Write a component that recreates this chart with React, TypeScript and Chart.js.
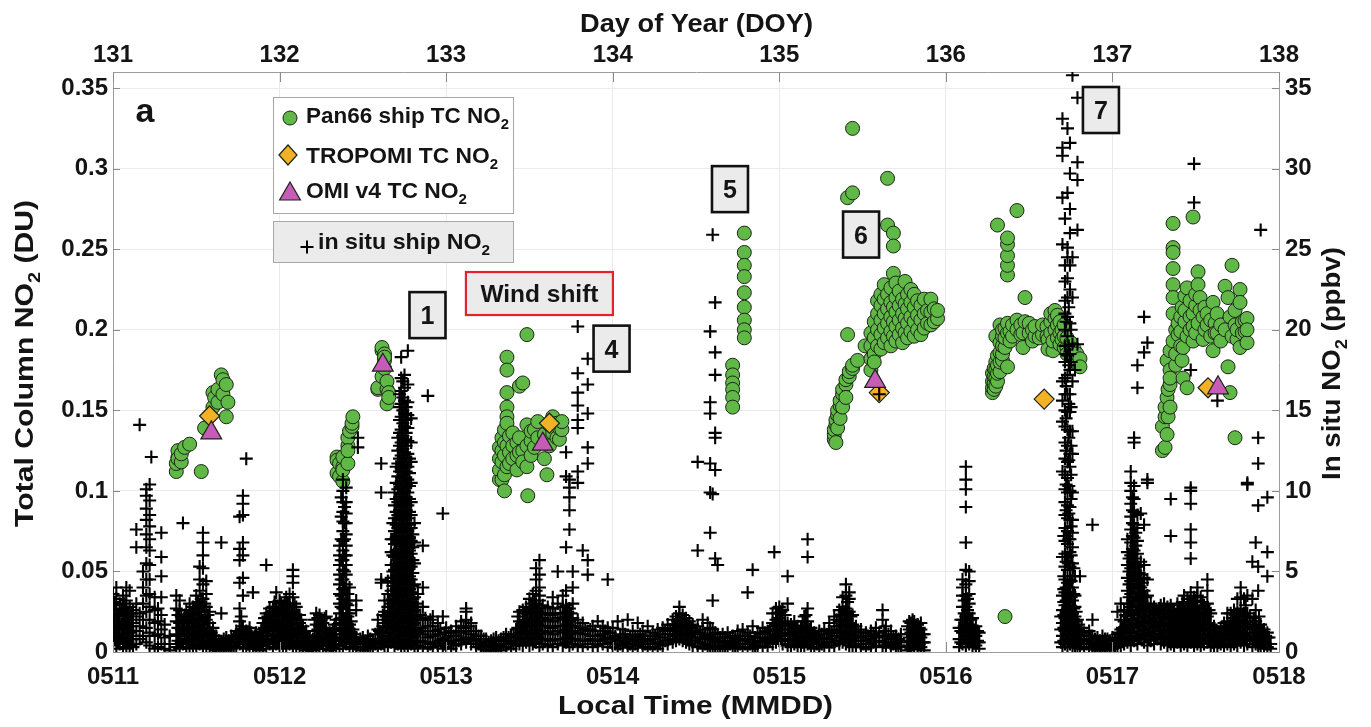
import React, { useEffect, useRef } from 'react';
import { Chart, registerables } from 'chart.js';

Chart.register(...registerables);

type Column = [number, number[]];
type Pair = [number, number];

// Axis ticks
const doyTicks = [131, 132, 133, 134, 135, 136, 137, 138];
const dateLabels = ['0511', '0512', '0513', '0514', '0515', '0516', '0517', '0518'];
const duTicks = [0, 0.05, 0.1, 0.15, 0.2, 0.25, 0.3, 0.35];
const duLabels = ['0', '0.05', '0.1', '0.15', '0.2', '0.25', '0.3', '0.35'];
const ppbvTicks = [0, 5, 10, 15, 20, 25, 30, 35];
const ppbvLabels = ['0', '5', '10', '15', '20', '25', '30', '35'];

// Satellite total columns (DOY, DU)
const tropomiTC: Pair[] = [
  [131.58, 0.1465], [133.62, 0.142], [135.6, 0.161], [136.59, 0.157], [137.574, 0.164],
];
const omiTC: Pair[] = [
  [131.59, 0.136], [132.62, 0.178], [133.58, 0.129], [135.575, 0.168], [137.634, 0.164],
];

// Pan66 ship total column NO2, grouped by time: [DOY, DU values]
const pan66Day131: Column[] = [
  [131.38, [0.112, 0.117]], [131.39, [0.121, 0.125, 0.12]], [131.41, [0.118, 0.123]],
  [131.43, [0.127]], [131.46, [0.129]], [131.53, [0.112]], [131.55, [0.139]],
  [131.6, [0.161, 0.152]], [131.61, [0.158]], [131.63, [0.155, 0.163]], [131.65, [0.172]],
  [131.66, [0.169, 0.16]], [131.68, [0.166, 0.146]], [131.69, [0.155]],
];
const pan66Day132: Column[] = [
  [132.345, [0.121, 0.119, 0.111]], [132.36, [0.117, 0.109]], [132.38, [0.115, 0.106, 0.113, 0.121]],
  [132.41, [0.128, 0.133, 0.117, 0.125]], [132.42, [0.137]], [132.435, [0.14, 0.142]], [132.44, [0.146]],
  [132.59, [0.163, 0.164]], [132.615, [0.187, 0.189, 0.171]], [132.63, [0.185, 0.181, 0.183, 0.176]],
  [132.645, [0.163, 0.154, 0.168]], [132.655, [0.161, 0.158]],
];
const pan66Day133: Column[] = [
  [133.32, [0.107, 0.113, 0.12, 0.127]], [133.335, [0.107, 0.118, 0.125, 0.133]],
  [133.35, [0.1, 0.11, 0.122, 0.13, 0.138]], [133.365, [0.183, 0.175, 0.161, 0.152, 0.146, 0.142, 0.115, 0.128]],
  [133.38, [0.117, 0.124, 0.134]], [133.4, [0.12, 0.128, 0.136]], [133.425, [0.13, 0.122, 0.113]],
  [133.44, [0.124, 0.133, 0.165]], [133.46, [0.167, 0.125, 0.118]], [133.485, [0.197, 0.141, 0.115, 0.128]],
  [133.49, [0.097]], [133.51, [0.122, 0.131, 0.137]], [133.53, [0.138, 0.127]], [133.55, [0.133, 0.143]],
  [133.59, [0.12, 0.135]], [133.605, [0.11]], [133.62, [0.128, 0.141]], [133.64, [0.146, 0.136]],
  [133.665, [0.142, 0.133]], [133.68, [0.132, 0.139]], [133.695, [0.138, 0.143]],
];
const pan66Day134: Column[] = [
  [134.72, [0.178, 0.172, 0.167, 0.163, 0.158, 0.152]],
  [134.79, [0.26, 0.248, 0.24, 0.233, 0.223, 0.214, 0.206, 0.2, 0.195]],
];
const pan66Day135: Column[] = [
  [135.33, [0.132, 0.135, 0.138]], [135.34, [0.141, 0.144, 0.13]], [135.35, [0.147, 0.15, 0.139]],
  [135.365, [0.153, 0.156, 0.145]], [135.38, [0.16, 0.163, 0.152]], [135.4, [0.166, 0.169, 0.158]],
  [135.41, [0.282, 0.197]], [135.42, [0.171, 0.174]], [135.44, [0.176, 0.178, 0.325, 0.285]],
  [135.47, [0.181]], [135.515, [0.19]],
  [135.55, [0.175, 0.182, 0.19, 0.198]], [135.57, [0.185, 0.195, 0.205, 0.18]],
  [135.59, [0.19, 0.2, 0.21, 0.218]], [135.61, [0.188, 0.197, 0.206, 0.215, 0.222]],
  [135.63, [0.192, 0.201, 0.21, 0.219, 0.228]], [135.65, [0.294, 0.265, 0.195, 0.204, 0.213, 0.222]],
  [135.67, [0.19, 0.199, 0.208, 0.217, 0.226]], [135.685, [0.26, 0.252, 0.235, 0.196, 0.205, 0.214]],
  [135.7, [0.193, 0.202, 0.211, 0.22, 0.229]], [135.72, [0.197, 0.206, 0.215, 0.224]],
  [135.74, [0.192, 0.201, 0.21, 0.219]], [135.755, [0.23, 0.198, 0.207, 0.216]],
  [135.77, [0.195, 0.204, 0.213, 0.222]], [135.79, [0.199, 0.208, 0.217, 0.225]],
  [135.81, [0.196, 0.205, 0.214, 0.222]], [135.83, [0.2, 0.209, 0.218]], [135.85, [0.197, 0.206, 0.215]],
  [135.87, [0.201, 0.21, 0.219]], [135.89, [0.204, 0.212]], [135.91, [0.203, 0.211, 0.219]],
  [135.93, [0.205, 0.213]], [135.95, [0.207, 0.212]],
];
const pan66Day136: Column[] = [
  [136.28, [0.161, 0.164, 0.168, 0.173]], [136.29, [0.163, 0.167, 0.171, 0.176]],
  [136.3, [0.165, 0.17, 0.175, 0.18, 0.196]], [136.31, [0.168, 0.173, 0.178, 0.184, 0.265]],
  [136.325, [0.174, 0.18, 0.186, 0.192, 0.203]], [136.34, [0.181, 0.185, 0.19, 0.196, 0.2]],
  [136.355, [0.189, 0.195, 0.201, 0.022]], [136.37, [0.177, 0.198, 0.204, 0.234, 0.24, 0.246, 0.253, 0.257]],
  [136.385, [0.199, 0.193]], [136.4, [0.196, 0.203]], [136.427, [0.274, 0.206, 0.2]], [136.45, [0.197, 0.203]],
  [136.463, [0.189, 0.198]], [136.475, [0.22, 0.205]], [136.5, [0.198, 0.204]], [136.52, [0.193, 0.2]],
  [136.535, [0.196, 0.202]], [136.56, [0.195]], [136.58, [0.197, 0.203]], [136.607, [0.202, 0.196]],
  [136.613, [0.194, 0.188]], [136.63, [0.198, 0.205, 0.21]], [136.643, [0.187, 0.193]],
  [136.655, [0.207, 0.212, 0.2]], [136.67, [0.195, 0.203, 0.209]], [136.685, [0.191, 0.198, 0.205]],
  [136.697, [0.2, 0.194]], [136.71, [0.189, 0.196, 0.203]], [136.727, [0.189, 0.185, 0.195]],
  [136.75, [0.186, 0.192]], [136.77, [0.183, 0.188]], [136.787, [0.179, 0.185]], [136.805, [0.182, 0.177]],
];
const pan66Day137: Column[] = [
  [137.3, [0.14, 0.125]], [137.316, [0.127, 0.146, 0.152]], [137.328, [0.158, 0.181, 0.135]],
  [137.334, [0.146, 0.163]], [137.346, [0.152, 0.166, 0.175, 0.187, 0.17]],
  [137.364, [0.266, 0.251, 0.248, 0.238, 0.228, 0.22, 0.21, 0.193]], [137.38, [0.178, 0.185, 0.2]],
  [137.394, [0.197, 0.204]], [137.41, [0.19, 0.199, 0.208]], [137.418, [0.181, 0.214]],
  [137.424, [0.189, 0.17]], [137.435, [0.205, 0.212, 0.221]], [137.448, [0.226, 0.164, 0.196]],
  [137.466, [0.218, 0.2, 0.208]], [137.484, [0.27, 0.21, 0.202, 0.193]], [137.5, [0.215, 0.222, 0.198]],
  [137.514, [0.236, 0.228, 0.204]], [137.526, [0.22, 0.212]], [137.544, [0.194, 0.208]],
  [137.555, [0.214, 0.2]], [137.568, [0.21, 0.203]], [137.59, [0.196, 0.206]], [137.604, [0.217, 0.187]],
  [137.616, [0.204, 0.198]], [137.628, [0.198, 0.21]], [137.65, [0.203, 0.193]], [137.676, [0.227, 0.2]],
  [137.694, [0.22, 0.177]], [137.706, [0.208, 0.161]], [137.718, [0.24, 0.196]],
  [137.736, [0.133, 0.203, 0.212]], [137.748, [0.194, 0.2]], [137.766, [0.225, 0.217, 0.189]],
  [137.78, [0.198, 0.205]], [137.796, [0.206, 0.199]], [137.808, [0.207, 0.192, 0.2]],
];

// In situ ship NO2, grouped by time: [DOY, ppbv values]
const inSitu131: Column[] = [
  [131.0, [0.4, 1.2, 2.0, 2.9, 3.6]], [131.01, [0.8, 1.6, 2.4, 3.1]], [131.02, [0.2, 1.0, 1.8, 2.6, 3.3, 4.0]],
  [131.03, [0.6, 1.5, 2.3]], [131.04, [0.5, 1.4, 2.2, 3.0]], [131.05, [0.9, 1.7, 2.6]],
  [131.06, [0.3, 1.1, 1.9, 2.7, 3.5]], [131.07, [0.7, 1.5, 2.2, 3.0]], [131.08, [0.2, 0.9, 1.7, 2.5, 3.2, 4.0]],
  [131.09, [0.6, 1.4, 2.3]], [131.1, [0.4, 1.2, 2.0, 2.8, 3.8]], [131.11, [0.8, 1.6, 2.4]],
  [131.12, [0.3, 1.0, 1.8, 2.6]], [131.14, [0.5, 1.3, 2.2, 3.0, 6.5, 7.6]], [131.16, [0.8, 1.6, 2.4, 14.1]],
  [131.18, [1.0, 2.0, 3.0, 4.0, 5.0]], [131.2, [0.6, 1.5, 2.5, 3.5, 4.5, 5.5, 6.5, 7.3, 8.2, 8.9, 9.7, 10.1]],
  [131.22, [0.4, 1.2, 2.0, 2.8, 3.6, 4.5, 5.4, 6.3, 7.0, 7.8, 8.5, 9.4, 10.4]], [131.23, [12.1]],
  [131.25, [0.2, 1.0, 1.8, 2.6, 3.4]], [131.27, [0.3, 1.1, 1.9, 2.7]], [131.29, [0.5, 1.4, 2.3, 3.4, 4.7, 5.9, 7.4]],
  [131.31, [0.2, 0.9, 1.7]], [131.34, [0.1, 0.5, 1.0]], [131.38, [0.3, 1.1, 1.9, 2.7, 3.5]],
  [131.39, [0.7, 1.5, 2.3]], [131.4, [0.2, 1.0, 1.8, 2.6, 3.2]], [131.41, [0.6, 1.4, 2.2]],
  [131.42, [0.5, 1.3, 2.0, 8.0]], [131.43, [0.8, 1.5, 2.3]], [131.44, [0.3, 1.1, 1.9, 2.6]],
  [131.45, [0.6, 1.4, 2.2]], [131.46, [0.2, 1.0, 1.8, 2.4, 3.0]], [131.47, [0.7, 1.5, 2.3]],
  [131.48, [0.4, 1.2, 2.0, 2.8]], [131.49, [0.8, 1.6, 2.4]], [131.5, [0.3, 1.1, 1.9, 2.7, 3.5]],
  [131.51, [0.7, 1.5, 2.3, 3.1]], [131.52, [0.5, 1.3, 2.1, 2.9, 3.8, 4.5, 5.3]],
  [131.53, [0.9, 1.7, 2.5, 3.3]], [131.54, [0.2, 1.0, 1.9, 2.8, 3.3, 4.2, 5.2, 6.0, 6.8, 7.4]],
  [131.55, [0.6, 1.4, 2.2, 3.0]], [131.56, [0.4, 1.2, 2.0, 2.8, 3.6, 4.4]], [131.57, [0.7, 1.5, 2.3]],
  [131.58, [0.3, 1.1, 1.8, 2.5]], [131.59, [0.6, 1.2]], [131.6, [0.2, 0.8, 1.5]], [131.61, [0.4, 1.0]],
  [131.62, [0.1, 0.5, 1.0]], [131.635, [0.3, 0.7]], [131.65, [0.2, 0.6, 2.4, 6.8]], [131.665, [0.4, 0.8]],
  [131.68, [0.1, 0.5, 0.9]], [131.695, [0.3, 0.7]], [131.71, [0.2, 0.6, 1.0]], [131.725, [0.4, 0.9]],
  [131.74, [0.3, 0.8, 1.3]], [131.75, [0.6, 1.1]], [131.76, [0.5, 1.2, 1.9, 2.7, 4.3, 5.7, 6.4, 8.4]],
  [131.77, [0.8, 1.4, 2.2]], [131.78, [0.3, 1.0, 1.6, 3.5, 4.6, 6.0, 6.8, 8.5, 9.2, 9.7]],
  [131.79, [0.6, 1.2]], [131.8, [0.2, 0.8, 1.3, 12.0]], [131.81, [0.5, 1.1]], [131.82, [0.4, 1.0, 1.5]],
  [131.83, [0.7, 1.2]], [131.84, [0.2, 0.7, 3.7]], [131.85, [0.5, 1.0]], [131.86, [0.3, 0.8, 1.2]],
  [131.87, [0.5, 0.9]], [131.88, [0.1, 0.6, 1.0]], [131.89, [0.7, 1.4]], [131.9, [0.4, 1.2, 1.8]],
  [131.91, [0.7, 1.5, 2.1]], [131.92, [0.2, 1.0, 1.8, 2.4, 5.4]], [131.93, [0.6, 1.4, 2.2]],
  [131.94, [0.5, 1.3, 2.0, 2.7]], [131.95, [0.8, 1.6, 2.4]], [131.96, [0.3, 1.1, 1.9, 2.8]],
  [131.97, [0.7, 1.5, 2.3, 3.1]], [131.98, [0.5, 1.3, 2.2, 2.8, 3.7]], [131.99, [0.9, 1.7, 2.5]],
];
const inSitu132: Column[] = [
  [132.0, [0.2, 1.0, 1.8, 2.6, 3.2]], [132.01, [0.6, 1.4, 2.2, 3.0]], [132.02, [0.4, 1.2, 2.0, 2.7]],
  [132.03, [0.8, 1.6, 2.4, 3.1]], [132.04, [0.3, 1.1, 1.9, 2.6, 3.4]], [132.05, [0.7, 1.5, 2.3, 3.0]],
  [132.06, [0.5, 1.3, 2.1, 2.9, 3.6]], [132.07, [0.9, 1.7, 2.5]], [132.08, [0.2, 1.0, 1.8, 2.4, 3.4, 4.3, 4.7, 5.1]],
  [132.09, [0.6, 1.4, 2.2, 3.0]], [132.1, [0.4, 1.2, 2.0, 2.8]], [132.11, [0.7, 1.5, 2.3]],
  [132.12, [0.3, 1.1, 1.8, 2.3]], [132.13, [0.6, 1.3, 2.0]], [132.14, [0.2, 0.9, 1.6]], [132.15, [0.5, 1.2]],
  [132.16, [0.1, 0.7, 1.3]], [132.17, [0.4, 0.9]], [132.18, [0.2, 0.5, 0.9]], [132.19, [0.3, 0.7]],
  [132.2, [0.1, 0.4, 0.8]], [132.21, [0.6, 1.3, 2.0]], [132.22, [0.3, 1.0, 1.7, 2.4]], [132.23, [0.7, 1.4, 2.1]],
  [132.24, [0.2, 0.9, 1.6, 2.3]], [132.25, [0.6, 1.3, 2.0]], [132.26, [0.4, 1.1, 1.8]], [132.27, [0.7, 1.4, 2.1]],
  [132.28, [0.2, 0.8, 1.5, 2.2]], [132.29, [0.5, 1.1]], [132.3, [0.1, 0.6, 1.2]], [132.31, [0.4, 1.0]],
  [132.32, [0.3, 0.8, 1.4]], [132.33, [0.5, 1.1, 1.7]], [132.34, [0.2, 0.7, 1.3, 2.0]],
  [132.36, [0.4, 1.1, 1.8, 2.4, 3.0, 3.6, 4.2, 4.8, 5.4, 6.0, 6.6]],
  [132.37, [0.7, 1.4, 2.1, 2.8, 3.5, 4.5, 5.7, 7.0, 8.4, 9.6]],
  [132.38, [0.2, 0.9, 1.5, 2.1, 2.7, 3.3, 3.9, 4.5, 5.1, 5.7, 6.3, 6.9, 7.5, 8.1, 8.7, 9.3, 10.0, 10.7]],
  [132.39, [0.6, 1.3, 2.0, 3.0, 4.0, 5.0, 6.0, 7.0, 8.0, 9.0]],
  [132.4, [0.5, 1.2, 1.8, 2.4, 3.0, 3.6, 4.2, 4.8, 5.4, 6.0, 6.6, 7.3, 8.0, 8.6, 9.3, 10.2]],
  [132.41, [0.8, 1.5, 2.2, 2.9, 3.6]], [132.42, [0.3, 1.0, 1.7, 2.4, 3.2, 4.0]], [132.43, [0.6, 1.2, 1.9]],
  [132.44, [0.2, 0.8, 1.4]], [132.45, [0.5, 1.1]], [132.46, [0.3, 0.9, 2.6, 3.2]], [132.47, [12.7, 13.3, 0.6]],
  [132.485, [0.3, 0.8]], [132.5, [0.1, 0.5, 0.9]], [132.515, [0.3, 0.7]], [132.53, [0.2, 0.6, 1.0]],
  [132.545, [0.4, 0.8]], [132.56, [0.3, 0.7]], [132.575, [0.5, 1.1]], [132.59, [0.2, 0.8, 1.4, 2.0]],
  [132.6, [0.6, 1.3]], [132.61, [0.5, 1.2, 4.3, 4.5, 9.9, 11.7]], [132.62, [0.8, 1.6, 2.3]],
  [132.63, [0.3, 1.0, 1.8, 2.5, 3.2]], [132.64, [0.7, 1.5, 2.2]],
  [132.65, [0.4, 1.2, 2.0, 2.8, 3.6, 4.4]], [132.66, [0.8, 1.6, 2.4, 3.2]],
  [132.67, [0.6, 1.4, 2.2, 3.0, 3.8, 4.6, 5.4, 6.2, 7.0]],
  [132.68, [0.9, 1.7, 2.5, 3.3, 4.1, 5.0, 6.0, 7.0, 8.0]],
  [132.69, [0.3, 1.1, 1.9, 2.7, 3.5, 4.3, 5.1, 5.9, 6.7, 7.5, 8.3, 9.1, 9.9]],
  [132.7, [0.7, 1.5, 2.3, 3.1, 3.9, 4.7, 5.5, 6.3, 7.1, 7.9, 8.7, 9.5, 10.5, 11.5]],
  [132.71, [0.5, 1.3, 2.1, 2.9, 3.7, 4.5, 5.3, 6.1, 6.9, 7.7, 8.5, 9.3, 10.1, 10.9, 11.7, 12.5, 13.3]],
  [132.72, [0.8, 1.6, 2.4, 3.2, 4.0, 4.8, 5.6, 6.4, 7.2, 8.0, 8.8, 9.6, 10.4, 11.2, 12.0, 12.8, 13.6, 14.4, 15.2, 16.0]],
  [132.73, [0.2, 1.0, 1.8, 2.6, 3.4, 4.2, 5.0, 5.8, 6.6, 7.4, 8.2, 9.0, 9.8, 10.6, 11.4, 12.2, 13.0, 13.8, 14.6, 15.4, 16.2, 17.0, 18.3]],
  [132.74, [0.6, 1.4, 2.2, 3.0, 3.8, 4.6, 5.4, 6.2, 7.0, 7.8, 8.6, 9.4, 10.2, 11.0, 11.8, 12.6, 13.4, 14.2, 15.0, 15.8, 16.8]],
  [132.75, [0.4, 1.2, 2.0, 2.8, 3.6, 4.4, 5.2, 6.0, 6.8, 7.6, 8.4, 9.2, 10.0, 10.8, 11.6, 12.4, 13.2, 14.0, 14.8, 15.6, 16.4, 17.2]],
  [132.76, [0.8, 1.6, 2.4, 3.2, 4.0, 4.8, 5.6, 6.4, 7.2, 8.0, 8.8, 9.6, 10.4, 11.2, 12.0, 12.8, 13.6, 14.4, 15.2]],
  [132.77, [0.3, 1.1, 1.9, 2.7, 3.5, 4.3, 5.1, 5.9, 6.7, 7.5, 8.3, 9.1, 9.9, 10.7, 11.5, 12.3, 13.1, 13.9, 14.7, 15.5, 16.6, 18.7]],
  [132.78, [0.7, 1.5, 2.3, 3.1, 3.9, 4.7, 5.5, 6.3, 7.1, 7.9, 8.7, 9.5, 10.3, 11.1, 12.0]],
  [132.79, [0.5, 1.3, 2.1, 2.9, 3.7, 4.5, 5.3, 6.1, 6.9, 7.7, 8.5, 9.3, 10.5, 11.8, 13.0, 14.5]],
  [132.8, [0.9, 1.7, 2.5, 3.3, 4.1, 4.9, 5.7, 6.5, 7.3]],
  [132.81, [0.2, 1.0, 1.8, 2.6, 3.4, 4.2, 5.5, 6.8, 8.0]], [132.82, [0.6, 1.4, 2.2, 3.0]],
  [132.83, [0.4, 1.2, 2.0, 2.8, 3.6]], [132.845, [0.7, 1.5, 2.3]], [132.86, [0.3, 1.1, 2.0, 2.8, 4.0, 6.6]],
  [132.875, [0.6, 1.3, 2.1]], [132.89, [0.2, 0.9, 1.6, 15.9]], [132.905, [0.5, 1.3, 2.0]],
  [132.92, [0.3, 1.0, 1.6, 2.2]], [132.935, [0.6, 1.3]], [132.95, [0.4, 1.1, 1.8]], [132.965, [0.7, 1.4]],
  [132.98, [0.2, 0.8, 2.2, 8.6]], [132.99, [0.5, 1.2]],
];
const inSitu133: Column[] = [
  [133.0, [0.3, 0.9, 1.5]], [133.015, [0.6, 1.2]], [133.03, [0.2, 0.7, 1.3]], [133.045, [0.5, 1.0]],
  [133.06, [0.4, 1.0, 1.6]], [133.075, [0.7, 1.3]], [133.09, [0.5, 1.2, 1.9]], [133.105, [0.8, 1.5]],
  [133.12, [0.6, 1.3, 2.0, 2.5, 2.7]], [133.135, [0.9, 1.6]], [133.15, [0.5, 1.1, 1.8]], [133.165, [0.7, 1.3]],
  [133.18, [0.3, 0.8, 1.3]], [133.195, [0.5, 1.0]], [133.21, [0.2, 0.6, 1.0]], [133.225, [0.4, 0.8]],
  [133.24, [0.1, 0.4, 0.8]], [133.255, [0.3, 0.6]], [133.27, [0.1, 0.3, 0.7]], [133.285, [0.4, 0.8]],
  [133.3, [0.2, 0.5, 0.9]], [133.315, [0.3, 0.7]], [133.33, [0.1, 0.4, 0.8]], [133.345, [0.5, 0.9]],
  [133.36, [0.3, 0.7, 1.1]], [133.375, [0.5, 0.9]], [133.39, [0.2, 0.6, 1.0]], [133.405, [0.5, 1.1]],
  [133.42, [0.4, 0.9, 1.4]], [133.43, [0.7, 1.5, 2.2]], [133.44, [0.5, 1.2, 1.9, 2.5]], [133.45, [0.8, 1.5]],
  [133.46, [0.4, 1.1, 1.8, 2.6]], [133.47, [0.8, 1.6, 2.4]], [133.48, [0.6, 1.3, 2.0, 2.8]], [133.49, [0.9, 1.7, 2.4]],
  [133.5, [0.4, 1.1, 1.9, 2.7, 3.3]], [133.51, [0.8, 1.6, 2.4, 3.0]], [133.52, [0.5, 1.2, 2.0, 2.8, 3.6]],
  [133.53, [0.9, 1.7, 2.5, 3.2]], [133.54, [0.6, 1.4, 2.2, 3.0, 3.8, 4.5, 5.2]], [133.55, [0.9, 1.7, 2.5]],
  [133.56, [0.3, 1.1, 1.9, 2.7, 3.2, 3.5, 4.0, 4.8, 5.7]], [133.57, [0.8, 1.6, 2.4]], [133.58, [0.5, 1.3, 2.1, 2.9]],
  [133.595, [0.8, 1.6, 2.4]], [133.61, [0.4, 1.2, 2.0, 2.8]], [133.625, [0.7, 1.5, 2.3]],
  [133.64, [0.3, 1.1, 1.9, 2.7, 3.4]], [133.655, [0.8, 1.6, 2.4]], [133.67, [0.5, 1.3, 2.1, 3.0, 5.0]],
  [133.685, [0.8, 1.6, 2.4]], [133.7, [0.4, 1.2, 2.0, 2.8, 3.5]], [133.71, [0.8, 1.6, 2.4]],
  [133.72, [0.6, 1.4, 2.2, 2.9, 3.8, 6.5, 10.9, 12.4]], [133.73, [0.9, 1.7, 2.5]],
  [133.74, [0.3, 1.1, 1.9, 2.7, 7.6, 8.8, 9.6, 10.2, 10.7]], [133.75, [0.8, 1.6, 2.4]],
  [133.76, [0.5, 1.3, 2.1, 3.0, 4.0, 5.0]], [133.775, [0.8, 1.6]],
  [133.79, [0.4, 1.2, 2.0, 10.5, 11.2, 13.9, 14.4, 15.3, 16.1, 17.3, 20.2]], [133.805, [0.7, 1.5]],
  [133.82, [0.3, 1.1, 1.8, 6.3]], [133.835, [0.7, 1.4]], [133.85, [0.5, 1.3, 4.8, 5.7, 11.7, 12.7, 14.8, 16.6, 18.2]],
  [133.865, [0.8, 1.4]], [133.88, [0.3, 1.0, 1.6]], [133.895, [0.7, 1.3]], [133.91, [0.4, 1.0, 1.9]],
  [133.925, [0.7, 1.3]], [133.94, [0.5, 1.1, 1.6]], [133.955, [0.8, 1.3]], [133.97, [0.3, 0.9, 1.5, 4.5]],
  [133.985, [0.6, 1.2]],
];
const inSitu134: Column[] = [
  [134.0, [0.3, 0.8, 1.5]], [134.015, [0.5, 1.0]], [134.03, [0.2, 0.7, 1.9]], [134.045, [0.5, 1.1]],
  [134.06, [0.4, 0.9, 1.4]], [134.075, [0.6, 1.1]], [134.09, [0.3, 0.8, 2.0]], [134.105, [0.5, 1.0]],
  [134.12, [0.2, 0.7, 1.3]], [134.135, [0.5, 1.0]], [134.15, [0.4, 0.9, 1.8]], [134.165, [0.6, 1.1]],
  [134.18, [0.3, 0.8, 1.3]], [134.195, [0.5, 1.0]], [134.21, [0.2, 0.7, 1.6]], [134.225, [0.5, 1.0]],
  [134.24, [0.3, 0.8, 1.2]], [134.255, [0.5, 1.0]], [134.27, [0.2, 0.6, 1.4]], [134.285, [0.5, 1.1]],
  [134.3, [0.4, 0.9, 1.5]], [134.315, [0.7, 1.3]], [134.33, [0.5, 1.1, 1.7]], [134.345, [0.8, 1.4]],
  [134.36, [0.6, 1.3, 2.0]], [134.37, [1.0, 1.7]], [134.38, [0.7, 1.5, 2.2]], [134.39, [1.1, 1.9]],
  [134.4, [0.8, 1.6, 2.4, 2.8]], [134.41, [1.2, 2.0]], [134.42, [0.7, 1.5, 2.3]], [134.43, [1.1, 1.9]],
  [134.44, [0.6, 1.4, 2.1]], [134.45, [1.0, 1.7]], [134.46, [0.5, 1.2, 1.9]], [134.47, [0.9, 1.5]],
  [134.48, [0.4, 1.1, 1.7]], [134.495, [0.7, 1.3]], [134.51, [0.3, 0.9, 1.6, 6.3, 11.8]], [134.525, [0.6, 1.2]],
  [134.54, [0.2, 0.8, 1.4, 2.0]], [134.555, [0.5, 1.1]], [134.57, [0.4, 1.0, 1.8]],
  [134.585, [0.3, 0.9, 1.5, 7.4, 9.9, 11.7, 14.8, 15.5, 19.9]], [134.6, [0.2, 0.8, 1.4, 3.2, 9.8, 25.9]],
  [134.615, [0.3, 0.7, 1.2, 5.8, 11.3, 13.3, 13.6, 17.2, 18.6, 21.7]], [134.63, [0.2, 0.6, 1.1, 5.4]],
  [134.645, [0.4, 0.9]], [134.66, [0.2, 0.6, 1.1]], [134.675, [0.4, 0.9]], [134.69, [0.3, 0.7, 1.2]],
  [134.705, [0.5, 0.9]], [134.72, [0.2, 0.6, 1.0]], [134.735, [0.4, 0.9]], [134.75, [0.3, 0.8, 1.3]],
  [134.765, [0.5, 1.0]], [134.78, [0.2, 0.7, 1.4]], [134.795, [0.5, 1.0]], [134.81, [0.3, 0.8, 1.2, 3.7]],
  [134.825, [0.5, 1.0]], [134.84, [0.2, 0.6, 1.6, 5.1]], [134.855, [0.4, 0.9]], [134.87, [0.3, 0.7, 1.2]],
  [134.885, [0.6, 1.1]], [134.9, [0.4, 0.9, 1.5]], [134.915, [0.6, 1.2]], [134.93, [0.3, 0.8, 1.3]],
  [134.945, [0.7, 1.4]], [134.96, [0.5, 1.1, 1.8, 2.4]], [134.97, [6.2, 0.9, 1.6]],
  [134.98, [0.6, 1.3, 2.0, 2.7]], [134.99, [1.0, 1.7, 2.4]],
];
const inSitu135: Column[] = [
  [135.0, [0.7, 1.4, 2.1, 2.8]], [135.01, [1.0, 1.8, 2.5]], [135.02, [0.5, 1.2, 1.9, 2.6]], [135.035, [0.8, 1.6, 2.3]],
  [135.05, [0.4, 1.1, 1.8, 3.0, 4.7]], [135.06, [0.7, 1.4]], [135.07, [0.3, 1.0, 1.7]], [135.08, [0.7, 1.4]],
  [135.09, [0.5, 1.2, 1.9]], [135.1, [0.8, 1.5]], [135.11, [0.4, 1.0, 1.6]], [135.12, [0.7, 1.3]],
  [135.13, [0.3, 0.9, 1.5]], [135.14, [0.6, 1.3, 1.9]], [135.15, [0.4, 1.0, 1.6, 2.2]], [135.16, [0.8, 1.5, 2.3]],
  [135.17, [0.5, 1.2, 1.9, 2.7, 5.9, 7.0]], [135.18, [0.8, 1.4]], [135.19, [0.3, 0.9, 1.5]], [135.2, [0.6, 1.1]],
  [135.21, [0.2, 0.7, 1.2]], [135.225, [0.5, 1.0]], [135.24, [0.3, 0.8, 1.3]], [135.255, [0.5, 1.1]],
  [135.27, [0.4, 0.9, 1.4]], [135.285, [0.6, 1.1]], [135.3, [0.3, 0.8, 1.3, 1.8]], [135.315, [0.6, 1.2]],
  [135.33, [0.4, 1.0, 1.6, 2.2]], [135.345, [0.7, 1.4, 2.0]], [135.36, [0.5, 1.2, 1.9, 2.6]], [135.37, [0.9, 1.6, 2.3]],
  [135.38, [0.6, 1.3, 2.0, 2.8, 3.4]], [135.39, [0.9, 1.7, 2.5]], [135.4, [0.5, 1.2, 1.9, 2.7, 3.5, 4.2]],
  [135.41, [0.8, 1.6, 2.4, 3.1]], [135.42, [0.4, 1.1, 1.8, 2.5, 3.3, 3.7]], [135.43, [0.8, 1.5, 2.2]],
  [135.44, [0.3, 1.0, 1.7, 2.3]], [135.45, [0.7, 1.3]], [135.46, [0.4, 1.0, 1.6]], [135.475, [0.7, 1.2]],
  [135.49, [0.3, 0.9, 1.4]], [135.505, [0.5, 1.0]], [135.52, [0.2, 0.7, 1.2]], [135.535, [0.5, 1.0]],
  [135.55, [0.3, 0.8, 1.3]], [135.565, [0.6, 1.1]], [135.58, [0.4, 0.9, 1.5]], [135.6, [16.0, 0.7, 1.2]],
  [135.62, [0.3, 1.0, 2.0, 2.6]], [135.63, [0.6, 1.3]], [135.64, [0.4, 1.0, 1.6]], [135.655, [0.6, 1.1]],
  [135.67, [0.3, 0.8, 1.3]], [135.685, [0.5, 0.9]], [135.7, [0.2, 0.6, 1.0]], [135.715, [0.4, 0.8]],
  [135.73, [0.3, 0.7, 1.1]], [135.77, [0.1, 0.6, 1.1, 1.6]], [135.78, [0.4, 0.9, 1.4, 1.9]],
  [135.79, [0.2, 0.7, 1.2, 1.8]], [135.8, [0.5, 1.0, 1.5, 2.0]], [135.81, [0.3, 0.8, 1.3, 1.9]],
  [135.82, [0.5, 1.0, 1.5]], [135.83, [0.2, 0.7, 1.2, 1.7]], [135.84, [0.5, 1.0, 1.5]],
  [135.85, [0.3, 0.9, 1.4, 1.8]], [135.86, [0.6, 1.1]], [135.87, [0.1, 0.6, 1.1]],
];
const inSitu136: Column[] = [
  [136.08, [0.3, 0.8, 1.5]], [136.09, [0.6, 1.3, 2.0]], [136.1, [0.5, 1.2, 2.0, 2.8, 3.5, 4.0, 4.5]],
  [136.11, [0.8, 1.6, 2.4, 3.2]],
  [136.12, [0.3, 1.0, 1.6, 2.2, 2.8, 3.5, 4.2, 5.1, 6.8, 9.0, 10.1, 10.7, 11.5]],
  [136.13, [0.7, 1.4, 2.0, 2.6, 3.3]], [136.14, [0.5, 1.1, 1.7, 2.4, 3.0, 3.6, 4.4, 5.0]], [136.15, [0.8, 1.4, 2.0]],
  [136.16, [0.3, 0.9, 1.5, 2.1]], [136.17, [0.6, 1.2]], [136.18, [0.4, 1.0, 1.6]], [136.19, [0.7, 1.3]],
  [136.2, [0.2, 0.6, 1.2]],
  [136.69, [0.6, 1.4, 2.2]],
  [136.7, [0.3, 1.0, 1.8, 2.6, 3.5, 5.9, 11.2, 14.3, 15.6, 16.8, 25.3, 28.2, 30.8, 31.3, 33.1]],
  [136.708, [0.7, 1.5, 2.3, 3.1, 3.9, 4.7, 7.2]],
  [136.715, [0.5, 1.3, 2.1, 2.9, 3.7, 4.5, 5.3, 6.1, 6.9, 7.7, 8.5, 9.3, 10.1, 11.0, 12.0, 13.0, 14.0, 15.0, 16.0, 17.0, 18.0, 19.0, 20.0, 21.0, 21.8, 23.0, 24.0, 26.9]],
  [136.722, [0.8, 1.6, 2.4, 3.2, 4.0, 5.6, 7.2, 8.8, 10.4, 12.5, 14.5, 16.5, 18.5, 20.5]],
  [136.73, [0.3, 1.1, 1.9, 2.7, 3.5, 4.3, 5.1, 5.9, 6.7, 7.5, 8.3, 9.1, 9.9, 10.8, 11.8, 12.8, 13.8, 14.9, 16.0, 17.2, 18.4, 19.6, 20.8, 22.0, 23.2, 24.5, 25.1, 28.5, 32.5]],
  [136.738, [0.7, 1.5, 2.3, 3.1, 4.0, 5.5, 7.0, 8.6, 10.3, 11.9, 13.3, 15.4, 17.8, 19.0, 21.4]],
  [136.745, [0.5, 1.3, 2.1, 2.9, 3.7, 4.5, 5.3, 6.2, 7.0, 8.2, 9.0, 10.0, 11.5, 12.3, 13.7, 14.9, 16.0, 17.5, 18.5, 20.4, 22.5, 24.0, 26.0, 27.5, 29.7, 31.6]],
  [136.752, [0.8, 1.6, 2.4, 3.4, 4.4, 6.0, 7.8, 9.5, 11.0, 12.8, 15.2, 18.0, 20.0]],
  [136.76, [0.3, 1.0, 1.7, 2.4, 3.2, 4.0, 4.7, 5.5, 6.5, 7.4, 8.2, 9.9, 12.3, 13.7, 16.8, 19.1, 22.0, 24.5, 35.8]],
  [136.768, [0.6, 1.3, 2.0, 2.7, 3.6, 5.2]],
  [136.775, [0.4, 1.0, 1.6, 2.2, 2.8, 3.5, 4.7, 17.5]], [136.782, [0.7, 1.3, 1.9, 2.5]],
  [136.79, [0.3, 0.8, 1.4, 2.0, 19.1, 26.2, 29.3, 30.4, 34.4]], [136.797, [0.6, 1.1, 1.7]],
  [136.805, [0.2, 0.7, 1.2, 4.7]], [136.815, [0.5, 1.0, 1.5]],
  [136.83, [0.2, 0.7, 1.2]], [136.845, [0.5, 1.0]], [136.86, [0.3, 0.8, 1.3]], [136.87, [0.5, 1.0]],
  [136.88, [0.2, 0.6, 1.0, 2.0, 7.9]], [136.895, [0.4, 0.8]], [136.91, [0.1, 0.5, 0.9]], [136.925, [0.3, 0.7]],
  [136.94, [0.2, 0.6, 1.0]], [136.955, [0.4, 0.8]], [136.97, [0.1, 0.5, 0.8]], [136.985, [0.3, 0.7]],
];
const inSitu137: Column[] = [
  [137.0, [0.2, 0.5, 0.9]], [137.015, [0.4, 0.8]], [137.03, [0.3, 0.7, 1.1, 2.5]], [137.04, [0.6, 1.2]],
  [137.05, [0.4, 0.9, 1.4, 2.0, 3.0]], [137.06, [0.7, 1.5]],
  [137.07, [0.5, 1.2, 1.9, 2.6]], [137.08, [0.9, 1.6, 2.3]],
  [137.09, [0.6, 1.4, 2.2, 3.0, 3.8, 4.6, 5.4, 6.2, 7.0]], [137.1, [0.9, 1.7, 2.6, 3.4, 4.2, 5.0, 5.8]],
  [137.11, [0.4, 1.2, 2.0, 2.8, 3.6, 4.4, 5.2, 6.0, 6.8, 7.6, 8.4, 9.2, 10.0, 10.5, 11.2]],
  [137.12, [0.8, 1.6, 2.4, 3.2, 4.0, 4.8, 5.6, 6.4, 7.2, 8.0, 8.8, 9.6]],
  [137.13, [0.7, 1.5, 2.3, 3.1, 3.9, 4.7, 5.5, 6.3, 7.1, 7.9, 8.7, 9.5, 10.3, 13.0, 13.3]],
  [137.14, [1.0, 1.8, 2.6, 3.4, 4.2, 5.0, 5.8, 6.6, 7.4]],
  [137.15, [0.5, 1.3, 2.1, 2.9, 3.7, 4.5, 5.3, 6.1, 6.9, 7.7, 8.5, 16.4, 17.8]],
  [137.16, [0.9, 1.7, 2.5, 3.3, 4.1, 4.9]],
  [137.17, [0.8, 1.6, 2.4, 3.2, 4.0, 4.8, 5.6, 8.6]], [137.18, [1.1, 1.9, 2.7, 3.5, 4.3]],
  [137.19, [0.6, 1.4, 2.2, 3.0, 3.8, 4.6, 5.4, 7.9, 18.6, 20.8]], [137.2, [1.0, 1.8, 2.6, 3.4]],
  [137.21, [0.4, 1.2, 2.0, 2.8, 3.5, 4.5, 10.5, 10.7, 19.2]], [137.22, [1.0, 1.8, 2.6]],
  [137.23, [0.7, 1.5, 2.3, 3.0]], [137.24, [1.1, 1.9, 2.6]], [137.25, [0.5, 1.3, 2.1, 2.8]], [137.26, [0.9, 1.7, 2.4]],
  [137.27, [0.8, 1.6, 2.4]], [137.28, [1.1, 1.9, 2.7]], [137.29, [0.5, 1.3, 2.1, 2.9]], [137.3, [0.9, 1.7, 2.5]],
  [137.31, [0.6, 1.4, 2.2, 3.0]], [137.32, [1.0, 1.8, 2.6]], [137.33, [0.4, 1.2, 2.0, 2.8]], [137.34, [0.8, 1.6, 2.4]],
  [137.35, [0.5, 1.3, 2.1, 2.9, 7.2, 9.5]], [137.36, [0.9, 1.7, 2.5]], [137.37, [0.3, 1.1, 1.9, 2.6]],
  [137.38, [0.7, 1.5, 2.3]], [137.39, [0.6, 1.4, 2.2, 3.0]], [137.4, [1.0, 1.8, 2.6]], [137.41, [0.4, 1.2, 2.0, 2.7]],
  [137.42, [0.8, 1.6, 2.4, 3.1]], [137.43, [0.5, 1.3, 2.1, 2.9, 3.5]], [137.44, [0.9, 1.7, 2.5]],
  [137.45, [0.3, 1.1, 1.9, 2.7, 3.3]], [137.46, [0.7, 1.5, 2.3, 3.1]],
  [137.47, [0.6, 1.4, 2.2, 3.0, 3.7, 5.8, 6.8, 7.6, 9.2, 10.0, 10.2, 17.5]], [137.48, [1.0, 1.8, 2.6]],
  [137.49, [0.4, 1.2, 2.0, 2.8, 3.4, 27.9, 30.3]], [137.5, [0.8, 1.6, 2.4, 3.2]],
  [137.51, [0.5, 1.3, 2.1, 2.8, 3.5, 4.0]], [137.52, [0.9, 1.7, 2.5]], [137.53, [0.3, 1.1, 1.9, 2.7, 3.4]],
  [137.54, [0.7, 1.5, 2.3, 3.1]], [137.55, [0.5, 1.3, 2.1, 2.9]], [137.56, [0.9, 1.7, 2.5]],
  [137.57, [0.6, 1.4, 2.2, 3.0, 3.8, 4.5]], [137.58, [1.0, 1.8, 2.6]], [137.59, [0.3, 1.0, 1.7, 2.4]],
  [137.6, [0.6, 1.3]], [137.61, [0.4, 1.0, 1.6]], [137.62, [0.7, 1.2]], [137.63, [0.3, 0.8, 1.3, 15.6]],
  [137.64, [0.6, 1.1]], [137.65, [0.5, 1.0, 1.5]], [137.66, [0.8, 1.3]], [137.67, [0.4, 1.1, 1.8]],
  [137.68, [0.8, 1.5]], [137.69, [0.5, 1.2, 1.9, 2.4]], [137.7, [0.8, 1.6]], [137.71, [0.3, 1.0, 1.7, 2.4]],
  [137.72, [0.7, 1.4, 2.1]], [137.73, [0.5, 1.2, 1.9, 2.6]], [137.74, [0.9, 1.6, 2.3]],
  [137.75, [0.4, 1.1, 1.8, 2.5, 3.3]], [137.76, [0.8, 1.5, 2.2]], [137.77, [0.6, 1.3, 2.0, 2.7, 3.4, 4.0]],
  [137.78, [0.9, 1.6, 2.3]], [137.79, [0.4, 1.1, 1.8, 2.4, 3.3]], [137.8, [0.8, 1.5, 2.2, 2.9]],
  [137.81, [0.5, 1.2, 1.9, 2.4, 3.5, 10.4, 10.5]], [137.825, [0.8, 1.5, 2.2]], [137.84, [0.3, 1.0, 1.7, 3.3, 5.6]],
  [137.85, [0.7, 1.4, 2.1]], [137.86, [0.5, 1.2, 1.9, 2.6, 6.8]], [137.865, [0.9, 1.6]],
  [137.875, [0.4, 1.1, 3.8, 5.3, 9.1, 11.7, 13.3]], [137.88, [0.8, 1.5, 2.2]],
  [137.89, [0.3, 1.0, 1.7, 26.2]], [137.9, [0.6, 1.2]], [137.91, [0.2, 0.8, 1.4]], [137.92, [0.5, 1.0]],
  [137.93, [0.3, 0.9, 1.2, 4.7, 6.2, 9.6]], [137.94, [0.5, 0.9]], [137.95, [0.2, 0.5]],
];

// Numbered callouts and the wind-shift note, anchored in data coordinates (DOY, DU)
const calloutLabels = ['1', '4', '5', '6', '7'];
const calloutDoy = [132.888, 133.993, 134.704, 135.491, 136.931];
const calloutDu = [0.2091, 0.1883, 0.2873, 0.2591, 0.3364];
const windShiftAnchor: Pair = [133.56, 0.2225];

const FAMILY = '"Liberation Sans", Arial, Helvetica, sans-serif';
const INK = '#141414';
const GREEN = '#60b947';
const ORANGE = '#f3b225';
const MAGENTA = '#c55cb8';
const EDGE = '#1c2417';

const flatten = (cols: Column[]) => cols.flatMap(([x, ys]) => ys.map((y) => ({ x, y })));

type Seg = { t: string; sub?: boolean };
const fontOf = (size: number) => `bold ${size}px ${FAMILY}`;

function richWidth(ctx: CanvasRenderingContext2D, segs: Seg[], size: number) {
  let w = 0;
  for (const s of segs) {
    ctx.font = fontOf(s.sub ? size * 0.66 : size);
    w += ctx.measureText(s.t).width;
  }
  return w;
}

// Draws bold text with optional subscripts; (x, y) is the anchor at cap-height centre.
function drawRich(
  ctx: CanvasRenderingContext2D,
  segs: Seg[],
  x: number,
  y: number,
  size: number,
  opts: { align?: 'left' | 'center'; width?: number; rotate?: boolean } = {}
) {
  ctx.save();
  ctx.translate(x, y);
  if (opts.rotate) ctx.rotate(-Math.PI / 2);
  const w = richWidth(ctx, segs, size);
  const sx = opts.width ? opts.width / w : 1;
  ctx.scale(sx, 1);
  let cx = opts.align === 'center' ? -w / 2 : 0;
  const base = size * 0.358;
  ctx.textAlign = 'left';
  ctx.textBaseline = 'alphabetic';
  ctx.fillStyle = INK;
  for (const s of segs) {
    ctx.font = fontOf(s.sub ? size * 0.66 : size);
    ctx.fillText(s.t, cx, base + (s.sub ? size * 0.3 : 0));
    cx += ctx.measureText(s.t).width;
  }
  ctx.restore();
}

function circleMark(ctx: CanvasRenderingContext2D, x: number, y: number) {
  ctx.beginPath();
  ctx.arc(x, y, 7, 0, Math.PI * 2);
  ctx.fillStyle = GREEN;
  ctx.fill();
  ctx.lineWidth = 1;
  ctx.strokeStyle = EDGE;
  ctx.stroke();
}
function diamondMark(ctx: CanvasRenderingContext2D, x: number, y: number) {
  const r = 10;
  ctx.beginPath();
  ctx.moveTo(x - r * 0.9, y);
  ctx.lineTo(x, y - r);
  ctx.lineTo(x + r * 0.9, y);
  ctx.lineTo(x, y + r);
  ctx.closePath();
  ctx.fillStyle = ORANGE;
  ctx.fill();
  ctx.lineWidth = 1.2;
  ctx.strokeStyle = EDGE;
  ctx.stroke();
}
function triangleMark(ctx: CanvasRenderingContext2D, x: number, y: number) {
  const r = 12;
  ctx.beginPath();
  ctx.moveTo(x, y - r);
  ctx.lineTo(x + r * 0.866, y + r * 0.5);
  ctx.lineTo(x - r * 0.866, y + r * 0.5);
  ctx.closePath();
  ctx.fillStyle = MAGENTA;
  ctx.fill();
  ctx.lineWidth = 1.2;
  ctx.strokeStyle = EDGE;
  ctx.stroke();
}
function plusMark(ctx: CanvasRenderingContext2D, x: number, y: number) {
  ctx.beginPath();
  ctx.moveTo(x - 6.5, y);
  ctx.lineTo(x + 6.5, y);
  ctx.moveTo(x, y - 6.5);
  ctx.lineTo(x, y + 6.5);
  ctx.lineWidth = 2;
  ctx.strokeStyle = '#000';
  ctx.stroke();
}

const overlayPlugin = {
  id: 'overlay',
  afterDraw(chart: any) {
    const ctx: CanvasRenderingContext2D = chart.ctx;
    const a = chart.chartArea;
    const sx = chart.scales.x;
    const sy = chart.scales.y;

    // inward tick marks
    ctx.save();
    ctx.strokeStyle = '#8a8a8a';
    ctx.lineWidth = 1;
    ctx.beginPath();
    for (const v of doyTicks) {
      const px = Math.round(sx.getPixelForValue(v)) + 0.5;
      ctx.moveTo(px, a.bottom);
      ctx.lineTo(px, a.bottom - 10);
      ctx.moveTo(px, a.top);
      ctx.lineTo(px, a.top + 10);
    }
    for (const v of duTicks) {
      const py = Math.round(sy.getPixelForValue(v)) + 0.5;
      ctx.moveTo(a.left, py);
      ctx.lineTo(a.left + 7, py);
      ctx.moveTo(a.right, py);
      ctx.lineTo(a.right - 7, py);
    }
    ctx.stroke();
    ctx.restore();

    // axis titles
    drawRich(ctx, [{ t: 'Day of Year (DOY)' }], 696.5, 23, 25, { align: 'center', width: 233 });
    drawRich(ctx, [{ t: 'Local Time (MMDD)' }], 695.5, 705.5, 25, { align: 'center', width: 275 });
    drawRich(ctx, [{ t: 'Total Column NO' }, { t: '2', sub: true }, { t: ' (DU)' }], 24, 363.5, 25, {
      align: 'center', width: 327, rotate: true,
    });
    drawRich(ctx, [{ t: 'In situ NO' }, { t: '2', sub: true }, { t: ' (ppbv)' }], 1331, 363.5, 25, {
      align: 'center', width: 233, rotate: true,
    });

    // panel letter
    drawRich(ctx, [{ t: 'a' }], 145, 110, 34, { align: 'center' });

    // legend
    ctx.save();
    ctx.fillStyle = '#ffffff';
    ctx.strokeStyle = '#a8a8a8';
    ctx.lineWidth = 1;
    ctx.fillRect(273.5, 97.5, 240, 116);
    ctx.strokeRect(273.5, 97.5, 240, 116);
    ctx.fillStyle = '#ebebeb';
    ctx.fillRect(273.5, 221.5, 240, 41);
    ctx.strokeRect(273.5, 221.5, 240, 41);
    ctx.restore();
    circleMark(ctx, 290, 118);
    diamondMark(ctx, 288, 155);
    triangleMark(ctx, 290, 194);
    plusMark(ctx, 307, 247);
    drawRich(ctx, [{ t: 'Pan66 ship TC NO' }, { t: '2', sub: true }], 306, 115, 22, { width: 203 });
    drawRich(ctx, [{ t: 'TROPOMI TC NO' }, { t: '2', sub: true }], 306, 155, 22, { width: 192 });
    drawRich(ctx, [{ t: 'OMI v4 TC NO' }, { t: '2', sub: true }], 306, 190, 22, { width: 161 });
    drawRich(ctx, [{ t: 'in situ ship NO' }, { t: '2', sub: true }], 318, 241, 22, { width: 172 });

    // numbered callouts
    calloutLabels.forEach((label, i) => {
      const cx = sx.getPixelForValue(calloutDoy[i]);
      const cy = sy.getPixelForValue(calloutDu[i]);
      ctx.save();
      ctx.fillStyle = '#ebebeb';
      ctx.fillRect(cx - 18, cy - 23, 36, 46);
      ctx.strokeStyle = '#111';
      ctx.lineWidth = 2.6;
      ctx.strokeRect(cx - 18, cy - 23, 36, 46);
      ctx.restore();
      drawRich(ctx, [{ t: label }], cx, cy, 25, { align: 'center' });
    });

    // wind shift note
    const wx = sx.getPixelForValue(windShiftAnchor[0]);
    const wy = sy.getPixelForValue(windShiftAnchor[1]);
    ctx.save();
    ctx.fillStyle = '#ebebeb';
    ctx.fillRect(wx - 73.5, wy - 21.5, 147, 43);
    ctx.strokeStyle = '#e2232b';
    ctx.lineWidth = 2.2;
    ctx.strokeRect(wx - 73.5, wy - 21.5, 147, 43);
    ctx.restore();
    drawRich(ctx, [{ t: 'Wind shift' }], wx, wy, 24, { align: 'center', width: 118 });
  },
};

const tickFont = { family: FAMILY, weight: 'bold' as const, size: 24 };
const GRID = '#ebebeb';
const BORDER = '#9c9c9c';

export default function App() {
  const ref = useRef<HTMLCanvasElement>(null);

  useEffect(() => {
    const canvas = ref.current;
    if (!canvas) return;

    const inSitu = flatten([
      ...inSitu131, ...inSitu132, ...inSitu133, ...inSitu134, ...inSitu135, ...inSitu136, ...inSitu137,
    ]);
    const pan66 = flatten([
      ...pan66Day131, ...pan66Day132, ...pan66Day133, ...pan66Day134, ...pan66Day135, ...pan66Day136, ...pan66Day137,
    ]);

    const chart = new Chart(canvas, {
      type: 'scatter',
      data: {
        datasets: [
          {
            label: 'in situ ship NO2',
            data: inSitu,
            xAxisID: 'x',
            yAxisID: 'yR',
            pointStyle: 'cross',
            pointRadius: 6.5,
            borderColor: '#000',
            backgroundColor: '#000',
            borderWidth: 2.1,
          },
          {
            label: 'OMI v4 TC NO2',
            data: omiTC.map(([x, y]) => ({ x, y })),
            xAxisID: 'x',
            yAxisID: 'y',
            pointStyle: 'triangle',
            pointRadius: 12,
            backgroundColor: MAGENTA,
            borderColor: EDGE,
            borderWidth: 1.2,
          },
          {
            label: 'TROPOMI TC NO2',
            data: tropomiTC.map(([x, y]) => ({ x, y })),
            xAxisID: 'x',
            yAxisID: 'y',
            pointStyle: 'rectRot',
            pointRadius: 10,
            backgroundColor: ORANGE,
            borderColor: EDGE,
            borderWidth: 1.2,
          },
          {
            label: 'Pan66 ship TC NO2',
            data: pan66,
            xAxisID: 'x',
            yAxisID: 'y',
            pointStyle: 'circle',
            pointRadius: 7,
            backgroundColor: GREEN,
            borderColor: EDGE,
            borderWidth: 1,
          },
        ],
      },
      options: {
        responsive: false,
        animation: false,
        devicePixelRatio: 1,
        events: [],
        layout: { padding: 0 },
        plugins: { legend: { display: false }, tooltip: { enabled: false } },
        scales: {
          x: {
            type: 'linear',
            position: 'bottom',
            min: 131,
            max: 138,
            afterBuildTicks: (s: any) => {
              s.ticks = doyTicks.map((value) => ({ value }));
            },
            afterFit: (s: any) => {
              s.height = 75;
            },
            ticks: {
              callback: (_v: any, i: number) => dateLabels[i],
              font: tickFont,
              color: INK,
              padding: 11,
              autoSkip: false,
              maxRotation: 0,
              minRotation: 0,
            },
            grid: { color: GRID, drawTicks: false },
            border: { color: BORDER },
          },
          xTop: {
            type: 'linear',
            position: 'top',
            min: 131,
            max: 138,
            afterBuildTicks: (s: any) => {
              s.ticks = doyTicks.map((value) => ({ value }));
            },
            afterFit: (s: any) => {
              s.height = 72;
            },
            ticks: {
              callback: (_v: any, i: number) => String(doyTicks[i]),
              font: tickFont,
              color: INK,
              padding: 2,
              autoSkip: false,
              maxRotation: 0,
              minRotation: 0,
            },
            grid: { display: false, drawTicks: false },
            border: { color: BORDER },
          },
          y: {
            type: 'linear',
            position: 'left',
            min: 0,
            max: 0.36,
            afterBuildTicks: (s: any) => {
              s.ticks = duTicks.map((value) => ({ value }));
            },
            afterFit: (s: any) => {
              s.width = 113;
            },
            ticks: {
              callback: (_v: any, i: number) => duLabels[i],
              font: tickFont,
              color: INK,
              padding: 5,
              autoSkip: false,
            },
            grid: { color: GRID, drawTicks: false },
            border: { color: BORDER },
          },
          yR: {
            type: 'linear',
            position: 'right',
            min: 0,
            max: 36,
            afterBuildTicks: (s: any) => {
              s.ticks = ppbvTicks.map((value) => ({ value }));
            },
            afterFit: (s: any) => {
              s.width = 92;
            },
            ticks: {
              callback: (_v: any, i: number) => ppbvLabels[i],
              font: tickFont,
              color: INK,
              padding: 6,
              autoSkip: false,
            },
            grid: { display: false, drawTicks: false },
            border: { color: BORDER },
          },
        },
      },
      plugins: [overlayPlugin],
    } as any);

    return () => chart.destroy();
  }, []);

  return (
    <div style={{ position: 'fixed', left: 0, top: 0, width: 1371, height: 727, background: '#fff' }}>
      <canvas ref={ref} width={1371} height={727} style={{ display: 'block', width: 1371, height: 727 }} />
    </div>
  );
}
